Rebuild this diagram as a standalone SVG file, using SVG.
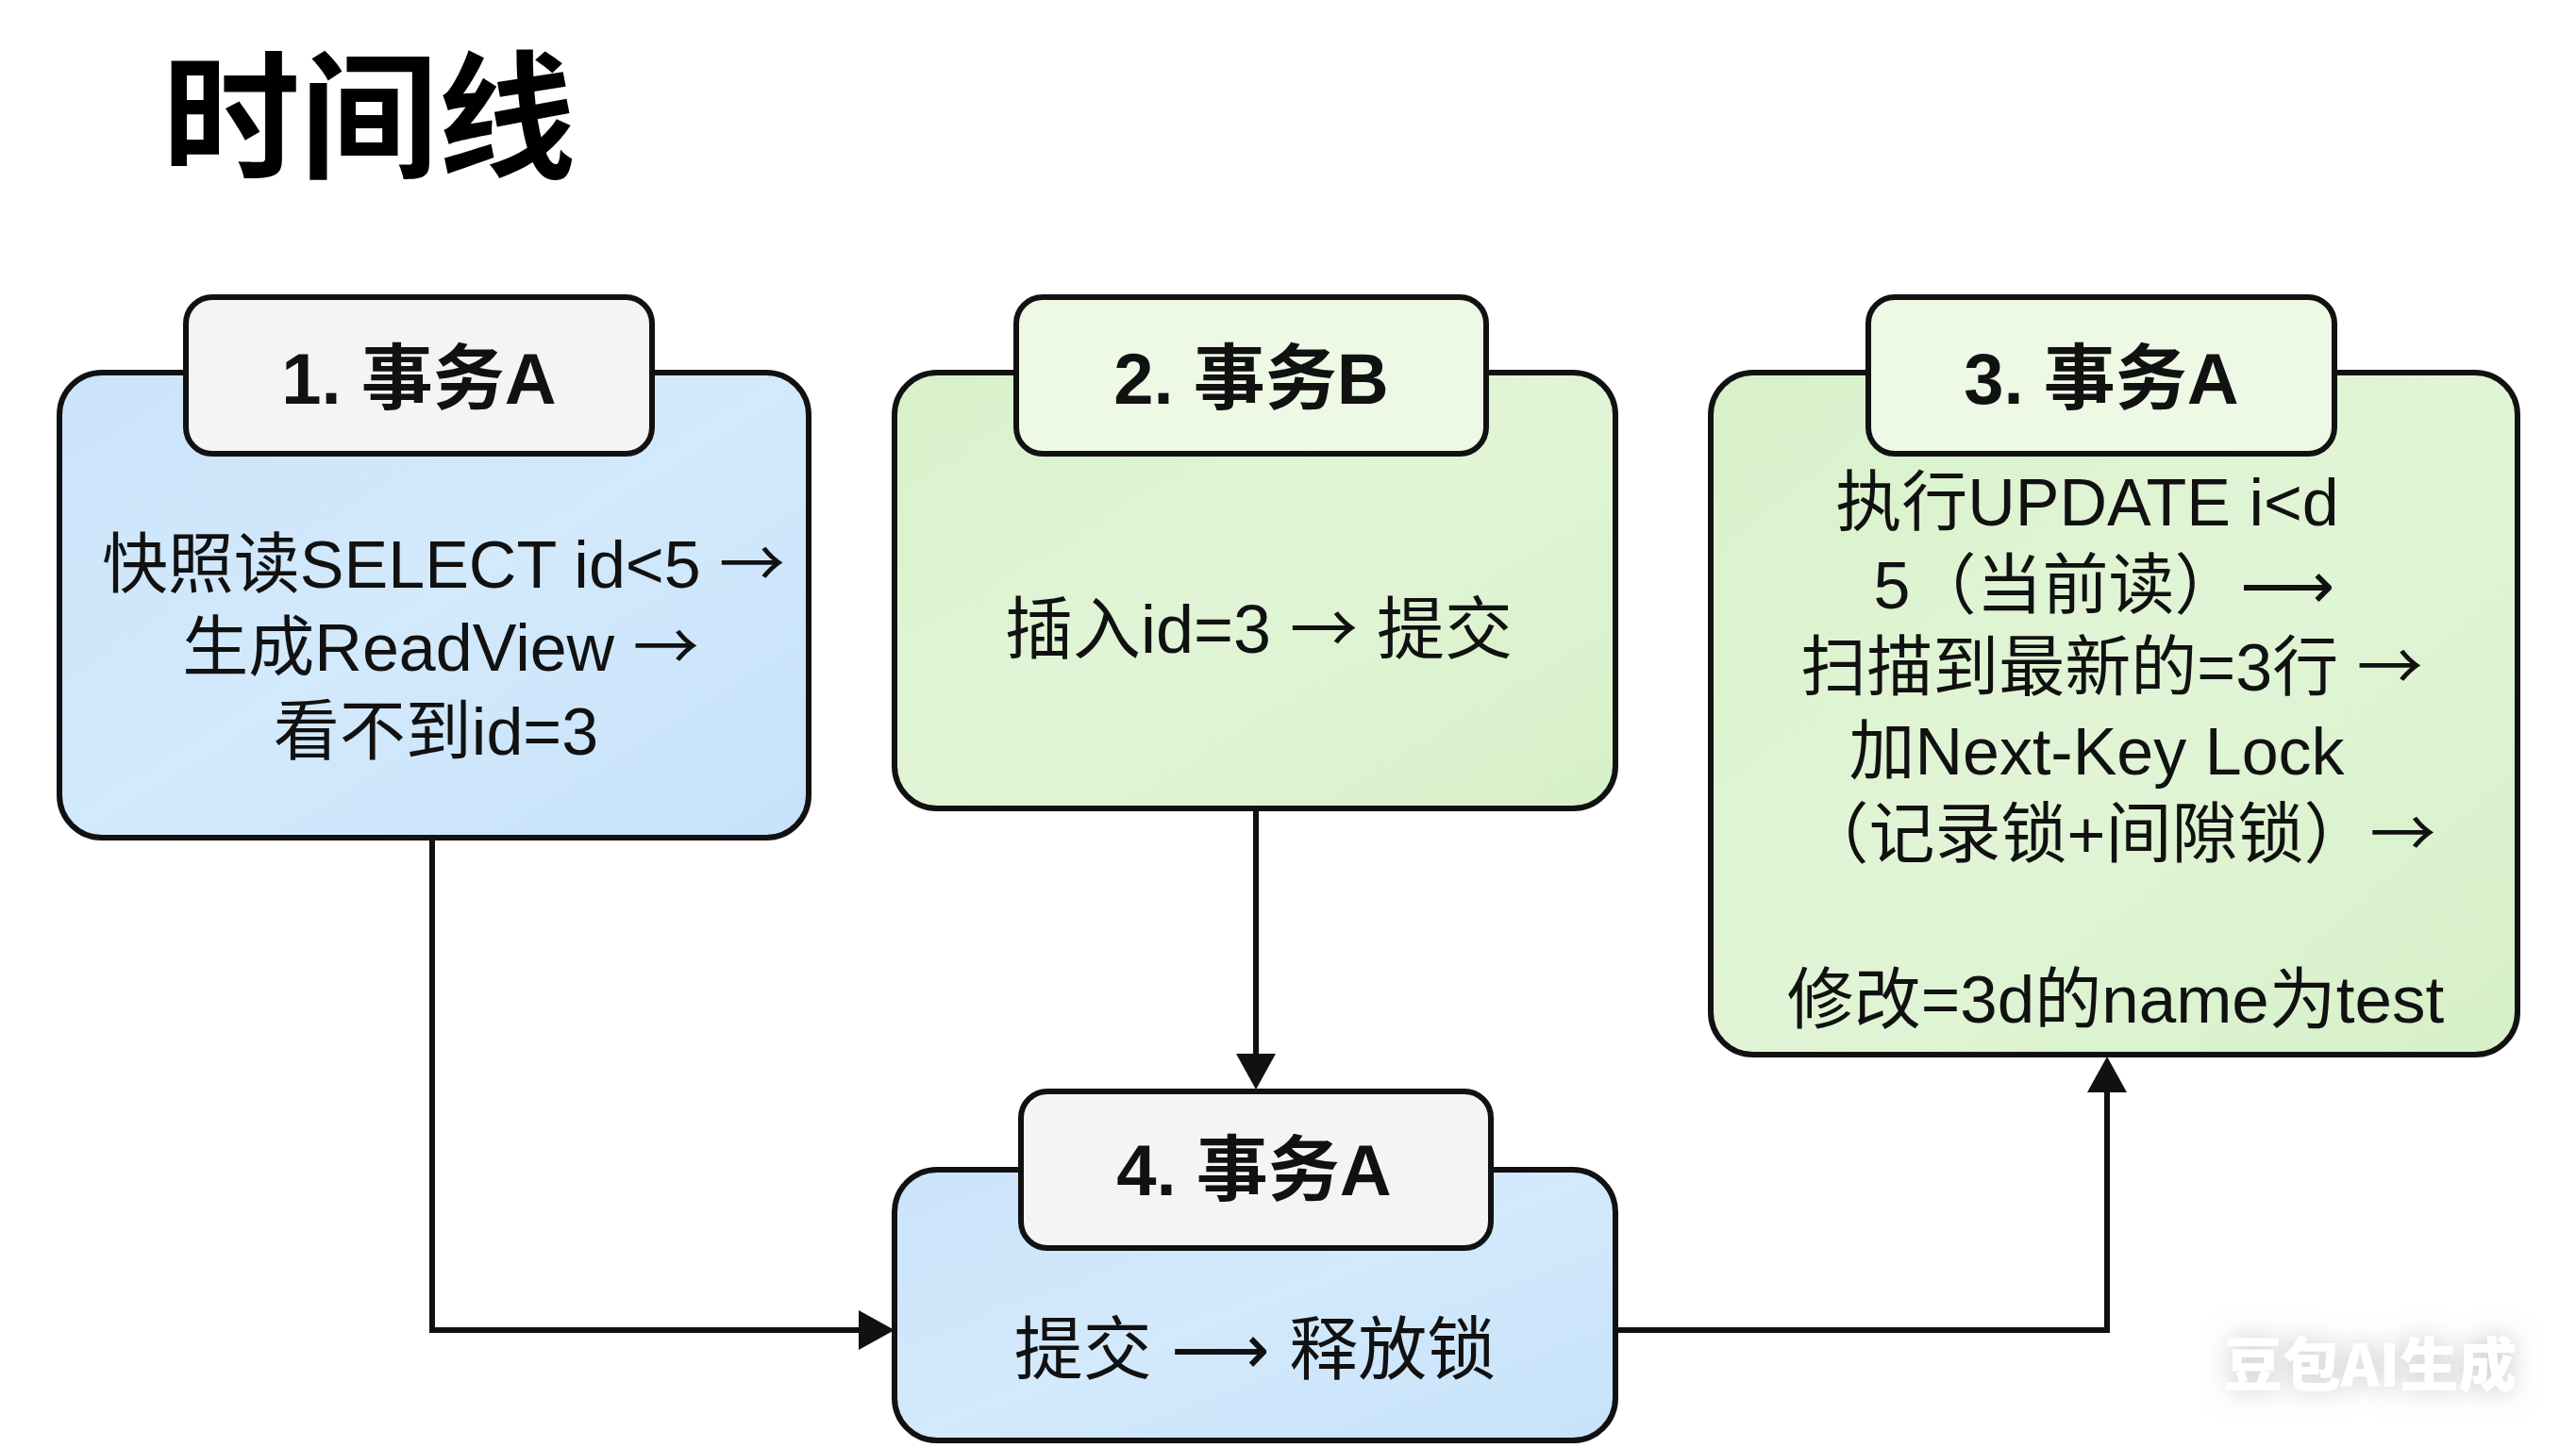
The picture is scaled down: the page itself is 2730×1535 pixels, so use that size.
<svg xmlns="http://www.w3.org/2000/svg" width="2730" height="1535" viewBox="0 0 2730 1535">
<style>
.body{stroke:#111;stroke-width:6}
.tab{stroke:#111;stroke-width:6}
.blue{fill:url(#gBlue)}
.green{fill:url(#gGreen)}
.tabBlue{fill:#f3f4f5}
.tabGreen{fill:#edf8e5}
.t{font-family:"Liberation Sans","Noto Sans CJK SC",sans-serif;fill:#111;text-anchor:middle}
.h{font-size:76px;font-weight:bold}
.b{font-size:70px}
.ar{font-family:"Noto Sans CJK SC",sans-serif}
.title{font-family:"Noto Sans CJK SC","Liberation Sans",sans-serif;font-size:146px;font-weight:bold;fill:#000}
.conn{fill:none;stroke:#111;stroke-width:6;stroke-linejoin:miter}
.wm{font-family:"Noto Sans CJK SC","Liberation Sans",sans-serif;font-size:62px;font-weight:900;fill:#fff;text-anchor:middle}
</style>
<defs>
<linearGradient id="gBlue" x1="0" y1="0" x2="1" y2="1">
<stop offset="0" stop-color="#cbe4fa"/>
<stop offset="0.5" stop-color="#d3e9fc"/>
<stop offset="1" stop-color="#c6e2fa"/>
</linearGradient>
<linearGradient id="gGreen" x1="0" y1="0" x2="1" y2="1">
<stop offset="0" stop-color="#d8f1ca"/>
<stop offset="0.5" stop-color="#e1f5d6"/>
<stop offset="1" stop-color="#d6f0c8"/>
</linearGradient>
<marker id="arr" markerUnits="userSpaceOnUse" markerWidth="40" markerHeight="44" refX="0" refY="21" orient="auto">
<path d="M0,0 L38,21 L0,42 z" fill="#111"/>
</marker>
<filter id="glow" x="-30%" y="-60%" width="160%" height="220%">
<feGaussianBlur in="SourceAlpha" stdDeviation="14" result="b"/>
<feFlood flood-color="#9a9a9a" flood-opacity="0.55"/>
<feComposite in2="b" operator="in" result="s"/>
<feMerge><feMergeNode in="s"/><feMergeNode in="SourceGraphic"/></feMerge>
</filter>
</defs>
<rect width="2730" height="1535" fill="#ffffff"/>
<text class="title" x="172" y="177">时间线</text>

<g id="connectors">
<path class="conn" d="M458,888 V1410 H910" marker-end="url(#arr)"/>
<path class="conn" d="M1331,857 V1117" marker-end="url(#arr)"/>
<path class="conn" d="M1714,1410 H2233 V1158" marker-end="url(#arr)"/>
</g>

<g id="node1">
<rect class="body blue" x="63" y="395" width="794" height="493" rx="45"/>
<rect class="tab tabBlue" x="197" y="315" width="494" height="166" rx="28"/>
<text class="t h" x="444" y="428">1. 事务A</text>
<text class="t b" x="470" y="623">快照读SELECT id&lt;5 <tspan class="ar">→</tspan></text>
<text class="t b" x="467" y="711">生成ReadView <tspan class="ar">→</tspan></text>
<text class="t b" x="462" y="800">看不到id=3</text>
</g>

<g id="node2">
<rect class="body green" x="948" y="395" width="764" height="462" rx="45"/>
<rect class="tab tabGreen" x="1077" y="315" width="498" height="166" rx="28"/>
<text class="t h" x="1326" y="428">2. 事务B</text>
<text class="t b" x="1334" y="692" style="font-size:72px">插入id=3 <tspan class="ar">→</tspan> 提交</text>
</g>

<g id="node3">
<rect class="body green" x="1813" y="395" width="855" height="723" rx="45"/>
<rect class="tab tabGreen" x="1980" y="315" width="494" height="166" rx="28"/>
<text class="t h" x="2227" y="428">3. 事务A</text>
<text class="t b" x="2212" y="557">执行UPDATE i&lt;d</text>
<text class="t b" x="2230" y="645">5（当前读）⟶</text>
<text class="t b" x="2238" y="732">扫描到最新的=3行 <tspan class="ar">→</tspan></text>
<text class="t b" x="2222" y="821">加Next-Key Lock</text>
<text class="t b" x="2246" y="909">（记录锁+间隙锁）<tspan class="ar">→</tspan></text>
<text class="t b" x="2242" y="1084" style="font-size:71px">修改=3d的name为test</text>
</g>

<g id="node4">
<rect class="body blue" x="948" y="1240" width="764" height="287" rx="45"/>
<rect class="tab tabBlue" x="1082" y="1157" width="498" height="166" rx="28"/>
<text class="t h" x="1329" y="1267">4. 事务A</text>
<text class="t b" x="1330" y="1456" style="font-size:73px">提交 ⟶ 释放锁</text>
</g>

<text class="wm" x="2512" y="1470" filter="url(#glow)">豆包AI生成</text>
</svg>
